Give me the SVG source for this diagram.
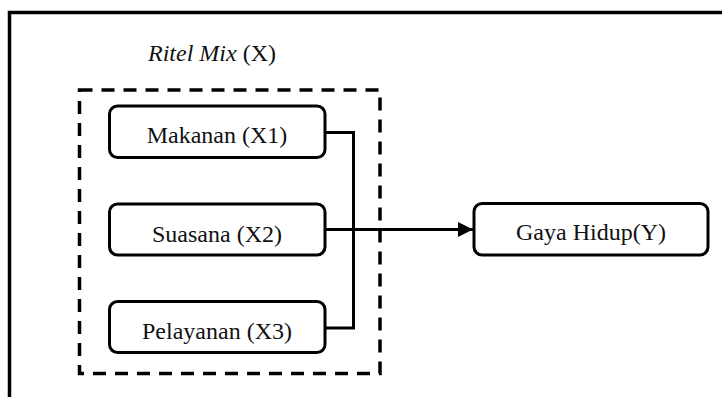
<svg xmlns="http://www.w3.org/2000/svg" width="722" height="397" viewBox="0 0 722 397">
<style>
.box{fill:#fff;stroke:#000;stroke-width:3}
.t{font-family:"Liberation Serif","Times New Roman",serif;font-size:24px;fill:#111;text-anchor:middle}
.ln{fill:none;stroke:#000;stroke-width:3}
</style>
<defs>
<marker id="ah" markerWidth="15" markerHeight="15" refX="15" refY="7.5" orient="auto" markerUnits="userSpaceOnUse">
<path d="M0,0 L15,7.5 L0,15 Z" fill="#000"/>
</marker>
</defs>
<rect width="722" height="397" fill="#fff"/>
<path d="M9.5,400 L9.5,12.5 L725,12.5" fill="none" stroke="#000" stroke-width="3.5"/>
<g id="group-x">
<text x="148" y="61" font-family="Liberation Serif,'Times New Roman',serif" font-size="24" fill="#111"><tspan font-style="italic">Ritel Mix</tspan> (X)</text>
<rect x="79.5" y="90" width="300.5" height="283.5" fill="none" stroke="#000" stroke-width="3.5" stroke-dasharray="13,9"/>
</g>
<g id="connectors">
<path class="ln" d="M325,132.5 H353.5 V328 H325"/>
<path class="ln" d="M325,229.5 H473" marker-end="url(#ah)"/>
</g>
<g id="makanan">
<rect class="box" x="109.5" y="106" width="215.5" height="51.5" rx="8"/>
<text class="t" x="217" y="143">Makanan (X1)</text>
</g>
<g id="suasana">
<rect class="box" x="109.5" y="204" width="215.5" height="51" rx="8"/>
<text class="t" x="217" y="241.5">Suasana (X2)</text>
</g>
<g id="pelayanan">
<rect class="box" x="109.5" y="301.5" width="215.5" height="51" rx="8"/>
<text class="t" x="217" y="338.5">Pelayanan (X3)</text>
</g>
<g id="gaya-hidup">
<rect class="box" x="474" y="203.5" width="234" height="51.5" rx="8"/>
<text class="t" x="591" y="240">Gaya Hidup(Y)</text>
</g>
</svg>
